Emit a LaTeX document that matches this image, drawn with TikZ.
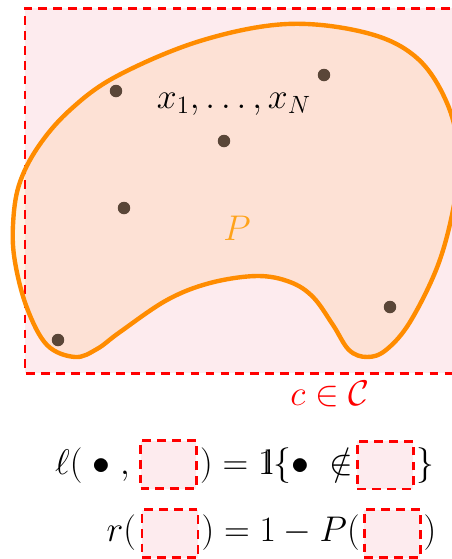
\RequirePackage{fix-cm}
\documentclass[tikz,border=0pt]{standalone}
\usepackage{amsmath,amssymb}
\usepackage{tikz}

\definecolor{boxpink}{HTML}{FDEBEE}
\definecolor{blobline}{HTML}{FF8C00}
\definecolor{plabel}{HTML}{FFA31A}
\definecolor{dotbrown}{HTML}{5A4638}
\definecolor{classred}{HTML}{FF0000}

\newcommand{\indicator}{\mathrm{1}\mkern-5mu\mathrm{l}}
\newcommand{\blobpts}{(287,24) (367,33) (417,58) (447,103) (459,155) (454,205)
    (438,265) (410,322) (386,350) (367,357) (349,350) (333,325)
    (313,297) (290,282) (257,276) (210,283) (167,300) (120,332)
    (97,349) (75,357) (47,345) (27,308) (15,262) (13,225)
    (19,185) (38,147) (70,110) (117,76) (200,41)}

\begin{document}
\begin{tikzpicture}[
    x=0.02cm, y=-0.02cm,
    bigfont/.style={font=\fontsize{20.3}{24}\selectfont},
    mtext/.style={bigfont, inner sep=0pt},
    reddash/.style={draw=classred, line width=1.7pt, dash pattern=on 5pt off 3.5pt},
    dbox/.style={reddash, fill=boxpink, minimum width=1.12cm, minimum height=0.96cm, inner sep=0pt},
    sample/.style={circle, fill=dotbrown, minimum size=0.25cm, inner sep=0pt}
]
    \useasboundingbox (0,0) rectangle (452,559);

    % --- concept c (box) ---
    \fill[boxpink] (25,8) rectangle (480,373);

    % --- distribution P ---
    \fill[blobline, fill opacity=0.1] plot[smooth cycle, tension=0.6] coordinates {\blobpts};
    \draw[reddash] (480,8) -- (25,8) -- (25,373) -- (480,373);
    \draw[blobline, line width=2.5pt] plot[smooth cycle, tension=0.6] coordinates {\blobpts};

    % samples
    \foreach \px/\py [count=\i] in {116/91, 324/75, 224/141, 124/208, 58/340, 390/307}
        \node[sample] (x\i) at (\px,\py) {};

    \node[mtext, anchor=base] (samples) at (234,108) {$x_1,\ldots,x_N$};
    \node[mtext, anchor=base, text=plabel] (dist) at (237,240) {$P$};
    \node[mtext, anchor=base, text=classred] (concept) at (330,405) {$c\in\mathcal{C}$};

    % --- loss ---
    \coordinate (base1) at (0,474.5);
    \coordinate (axis1) at (0,465);
    \node[dbox] (arg1) at (168.5,464.5) {};
    \node[mtext, anchor=base east, xshift=-5pt] (loss) at (arg1.west |- base1) {$\ell(\;\bullet\;,$};
    \node[mtext, anchor=base west, xshift=1pt] (indic) at (arg1.east |- base1) {$)=\indicator\{\bullet\;\notin$};
    \node[dbox, anchor=west, xshift=1.5pt] (set1) at (indic.east |- axis1) {};
    \node[mtext, anchor=base west, xshift=1pt] (close1) at (set1.east |- base1) {$\}$};

    % --- risk ---
    \coordinate (base2) at (0,541.7);
    \coordinate (axis2) at (0,533.5);
    \node[dbox] (arg2) at (170,533.5) {};
    \node[mtext, anchor=base east, xshift=-2.4pt] (risk) at (arg2.west |- base2) {$r($};
    \node[mtext, anchor=base west, xshift=1pt] (prob) at (arg2.east |- base2) {$)=1-P($};
    \node[dbox, anchor=west, xshift=1.5pt] (arg3) at (prob.east |- axis2) {};
    \node[mtext, anchor=base west, xshift=1pt] (close2) at (arg3.east |- base2) {$)$};

\end{tikzpicture}
\end{document}
